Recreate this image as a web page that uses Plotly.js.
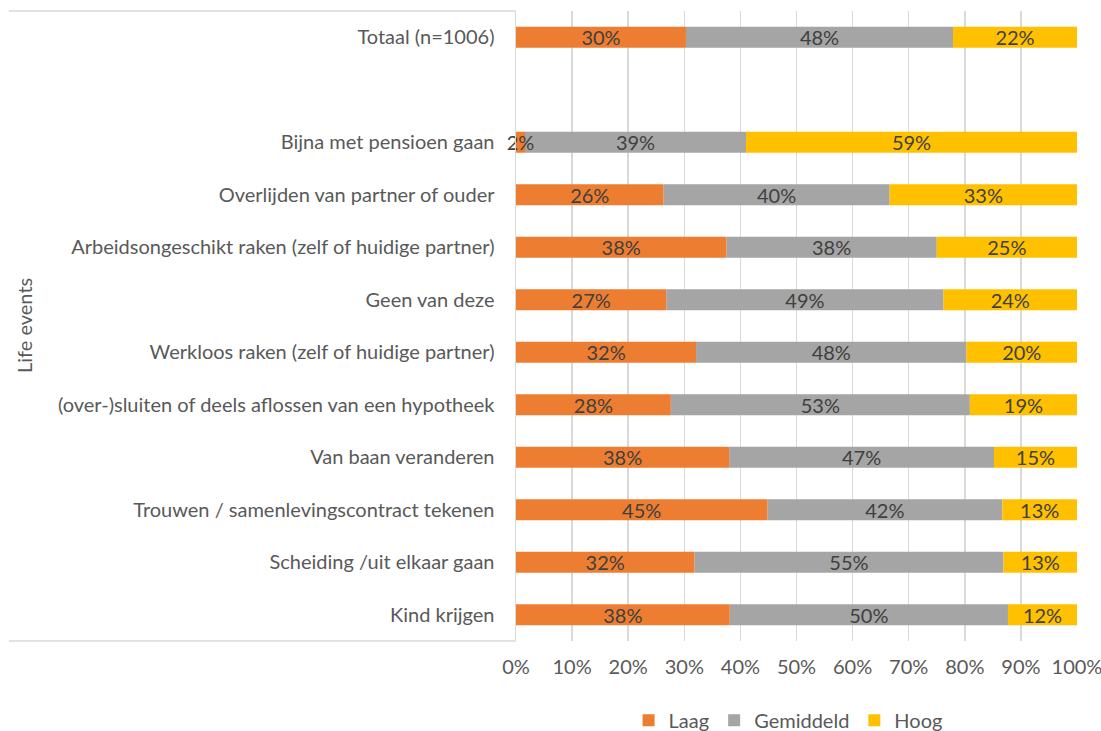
<!DOCTYPE html>
<html>
<head>
<meta charset="utf-8">
<script src="https://cdn.plot.ly/plotly-3.0.1.min.js"></script>
<style>html,body{margin:0;padding:0;background:#fff;}#chart{width:1101px;height:731px;}</style>
</head>
<body>
<div id="chart"></div>
<script>
// Categories, bottom to top (blank spacer between the events and the total)
const categories = [
  "Kind krijgen",
  "Scheiding /uit elkaar gaan",
  "Trouwen / samenlevingscontract tekenen",
  "Van baan veranderen",
  "(over-)sluiten of deels aflossen van een hypotheek",
  "Werkloos raken (zelf of huidige partner)",
  "Geen van deze",
  "Arbeidsongeschikt raken (zelf of huidige partner)",
  "Overlijden van partner of ouder",
  "Bijna met pensioen gaan",
  " ",
  "Totaal (n=1006)"
];
const laag      = [38.1, 31.8, 44.8, 38.0, 27.6, 32.1, 26.8, 37.5, 26.3, 1.6, null, 30.3];
const gemiddeld = [49.6, 55.1, 41.9, 47.2, 53.3, 48.2, 49.4, 37.5, 40.3, 39.4, null, 47.6];
const hoog      = [12.3, 13.1, 13.3, 14.8, 19.1, 19.7, 23.8, 25.0, 33.4, 59.0, null, 22.1];
const seriesNames = ["Laag", "Gemiddeld", "Hoog"];
const xTickVals = [0, 10, 20, 30, 40, 50, 60, 70, 80, 90, 100];
const xTickText = ["0%", "10%", "20%", "30%", "40%", "50%", "60%", "70%", "80%", "90%", "100%"];

const FONT = "Lato, 'Open Sans', sans-serif";
const FS = 20;
const colors = ["#ED7D31", "#A5A5A5", "#FFC000"];

// stacked bases (computed from the series) so that Laag can be drawn last, with its labels on top
const baseLaag = laag.map(v => v == null ? null : 0);
const baseGem = laag.map(v => v);
const baseHoog = laag.map((v, i) => v == null ? null : v + gemiddeld[i]);

function barTrace(name, vals, base, color, rank) {
  return {
    type: "bar",
    orientation: "h",
    name: name,
    legendrank: rank,
    y: categories,
    x: vals,
    base: base,
    marker: {color: color},
    width: 0.4,
    texttemplate: "%{x:.0f}%",
    textposition: "inside",
    insidetextanchor: "middle",
    textangle: 0,
    constraintext: "none",
    cliponaxis: false,
    textfont: {family: FONT, size: FS, color: "#404040"},
    hoverinfo: "skip"
  };
}

const data = [
  barTrace(seriesNames[1], gemiddeld, baseGem, colors[1], 2),
  barTrace(seriesNames[2], hoog, baseHoog, colors[2], 3),
  barTrace(seriesNames[0], laag, baseLaag, colors[0], 1)
];

const layout = {
  width: 1101,
  height: 731,
  barmode: "overlay",
  paper_bgcolor: "#ffffff",
  plot_bgcolor: "#ffffff",
  margin: {l: 516, r: 24, t: 11, b: 90, autoexpand: false},
  font: {family: FONT, color: "#595959", size: FS},
  uniformtext: {mode: "show", minsize: FS},
  showlegend: true,
  legend: {
    orientation: "h",
    x: 0.485, xanchor: "center",
    y: -0.095, yanchor: "top",
    font: {family: FONT, size: FS, color: "#595959"},
    traceorder: "normal",
    itemwidth: 30
  },
  xaxis: {
    range: [0, 100.001],
    tickvals: xTickVals,
    ticktext: xTickText,
    showgrid: true,
    gridcolor: "#D9D9D9",
    gridwidth: 1.5,
    zeroline: false,
    showline: false,
    ticks: "outside",
    ticklen: 8,
    tickcolor: "rgba(0,0,0,0)",
    tickfont: {family: FONT, size: FS, color: "#595959"},
    ticklabeloverflow: "allow",
    automargin: false,
    fixedrange: true
  },
  yaxis: {
    type: "category",
    categoryorder: "array",
    categoryarray: categories,
    range: [-0.5, 11.5],
    showline: true,
    linecolor: "#D9D9D9",
    linewidth: 1.5,
    showgrid: false,
    zeroline: false,
    ticks: "outside",
    ticklen: 16,
    tickcolor: "rgba(0,0,0,0)",
    tickfont: {family: FONT, size: FS, color: "#595959"},
    ticklabeloverflow: "allow",
    automargin: false,
    fixedrange: true
  },
  shapes: [
    {type: "line", xref: "paper", yref: "paper", x0: -0.904, x1: 0, y0: 1, y1: 1,
     line: {color: "#D9D9D9", width: 1.5}},
    {type: "line", xref: "paper", yref: "paper", x0: -0.904, x1: 0, y0: 0, y1: 0,
     line: {color: "#D9D9D9", width: 1.5}}
  ],
  annotations: [
    {text: "Life events", xref: "paper", yref: "paper", x: -0.877, y: 0.5,
     textangle: -90, showarrow: false, xanchor: "center", yanchor: "middle",
     font: {family: FONT, size: FS, color: "#595959"}}
  ]
};

Plotly.newPlot("chart", data, layout, {displayModeBar: false, staticPlot: true});
</script>
</body>
</html>
